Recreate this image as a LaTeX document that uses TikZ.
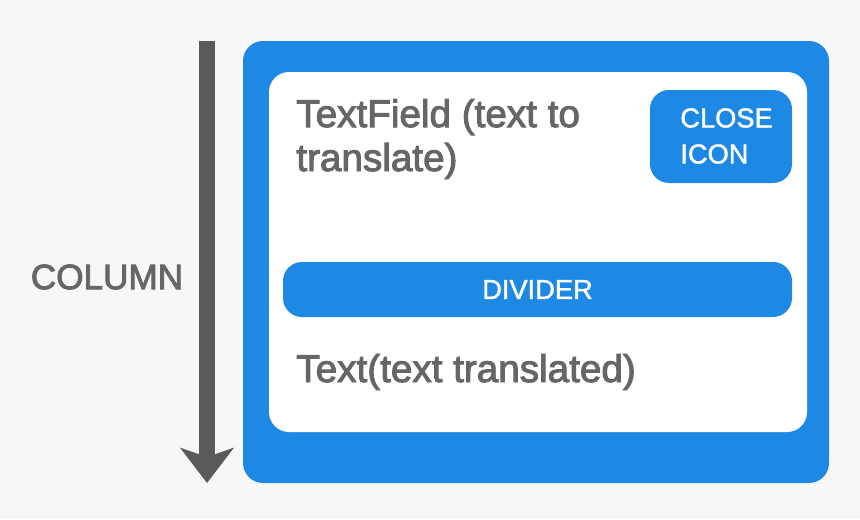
\documentclass[tikz,border=0pt]{standalone}
\usepackage{fontspec}
\setmainfont{Liberation Sans}
\newfontfamily\medfont[FakeBold=2.5]{Liberation Sans}
\newfontfamily\btnfont[FakeBold=1.5]{Liberation Sans}
\usepackage{tikz}
\usetikzlibrary{positioning,arrows.meta}
\definecolor{mdblue}{HTML}{1E88E5}
\definecolor{txtgray}{HTML}{666666}
\definecolor{arrowgray}{HTML}{5A5A5A}
\definecolor{bggray}{HTML}{F7F7F7}
\tikzset{
  outerbox/.style={rectangle, rounded corners=0.4cm, fill=mdblue, minimum width=11.72cm, minimum height=8.84cm, inner sep=0pt},
  innerbox/.style={rectangle, rounded corners=0.4cm, fill=white, minimum width=10.76cm, minimum height=7.2cm, inner sep=0pt},
  bluebtn/.style={rectangle, rounded corners=0.38cm, fill=mdblue, text=white, font=\btnfont\fontsize{15.5}{20}\selectfont, inner sep=0pt},
  graytext/.style={text=txtgray, font=\medfont\fontsize{22}{25}\selectfont, align=left, inner sep=0pt},
  colarrow/.style={-{Stealth[length=0.7cm, width=1.06cm, inset=0.18cm]}, line width=0.32cm, arrowgray}
}
\begin{document}
\begin{tikzpicture}
  \fill[bggray] (0,0) rectangle (17.2,10.38);
  \useasboundingbox (0,0) rectangle (17.2,10.38);
  % column arrow
  \coordinate (coltop) at (4.14,9.56);
  \coordinate (colbot) at (4.14,0.72);
  \draw[colarrow] (coltop) -- (colbot);
  \node[text=txtgray, font=\medfont\fontsize{20}{22}\selectfont, inner sep=0pt] (collabel) at (2.14,4.84) {COLUMN};
  % boxes
  \node[outerbox] (outer) at (10.72,5.14) {};
  \node[innerbox] (inner) at (10.76,5.34) {};
  \node[bluebtn, minimum width=2.84cm, minimum height=1.86cm] (close) at (14.42,7.65) {};
  \node[text=white, font=\btnfont\fontsize{15.5}{20.5}\selectfont, align=left, anchor=west, inner sep=0pt] (closelabel) at (13.6,7.66) {CLOSE\\ICON};
  \node[bluebtn, minimum width=10.18cm, minimum height=1.1cm] (divider) at (10.75,4.59) {DIVIDER};
  % texts
  \node[graytext, anchor=base west] (field) at (5.92,6.96) {TextField (text to\\translate)};
  \node[graytext, anchor=base west] (translated) at (5.92,2.74) {Text(text translated)};
\end{tikzpicture}
\end{document}
